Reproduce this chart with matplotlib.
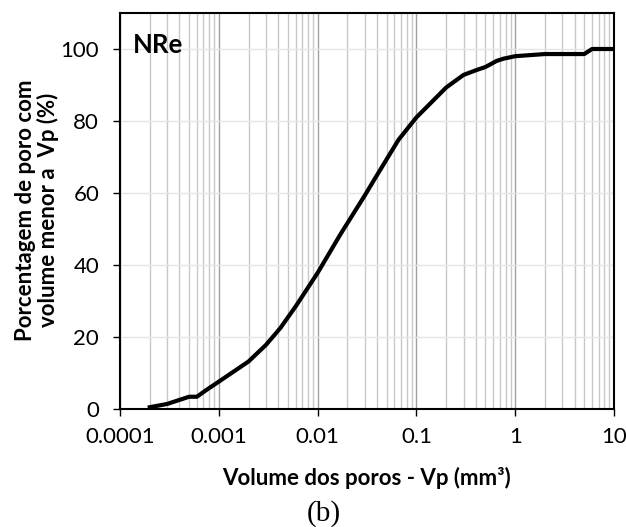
import numpy as np
import matplotlib.pyplot as plt
from matplotlib.ticker import LogLocator, FixedFormatter, FixedLocator

plt.rcParams['font.family'] = ['Lato', 'DejaVu Sans']

# pore volume (mm3) and cumulative percentage smaller than Vp
vp = [0.0002, 0.0003, 0.0005, 0.0006, 0.00075, 0.001, 0.002, 0.003, 0.0042,
      0.006, 0.01, 0.017, 0.03, 0.04, 0.066, 0.1, 0.2, 0.3, 0.41, 0.5,
      0.65, 0.76, 1.0, 2.0, 5.0, 6.0, 10.0]
pct = [0.5, 1.4, 3.4, 3.4, 5.3, 7.6, 13.2, 17.8, 22.5, 28.5, 37.8, 48.5,
       59.3, 65.0, 74.8, 81.0, 89.3, 92.8, 94.2, 95.0, 96.7, 97.3, 98.0,
       98.6, 98.6, 100.0, 100.0]

xticks = [0.0001, 0.001, 0.01, 0.1, 1, 10]
xlabels = ["0.0001", "0.001", "0.01", "0.1", "1", "10"]
yticks = [0, 20, 40, 60, 80, 100]

fig = plt.figure(figsize=(6.26, 5.27), dpi=100)
ax = fig.add_axes([120 / 626, 1 - 409 / 527, 494 / 626, 396 / 527])

ax.plot(vp, pct, color="black", linewidth=3, solid_joinstyle="round")
ax.set_xscale("log")
ax.set_xlim(0.0001, 10)
ax.set_ylim(0, 110)

ax.xaxis.set_major_locator(FixedLocator(xticks))
ax.xaxis.set_major_formatter(FixedFormatter(xlabels))
ax.xaxis.set_minor_locator(LogLocator(base=10, subs=np.arange(2, 10)))
ax.xaxis.set_minor_formatter(FixedFormatter([]))
ax.set_yticks(yticks)

ax.grid(True, which="major", axis="x", color="#a0a0a0", linewidth=1)
ax.grid(True, which="minor", axis="x", color="#c8c8c8", linewidth=1)
ax.grid(True, which="major", axis="y", color="#e4e4ea", linewidth=1)
ax.set_axisbelow(True)

for s in ax.spines.values():
    s.set_linewidth(1.5)
ax.tick_params(axis="both", which="major", direction="out", length=5, width=1,
               labelsize=16)
ax.tick_params(axis="y", pad=10)
ax.tick_params(axis="x", pad=8)
ax.tick_params(axis="x", which="minor", length=0)

ax.text(13 / 494, 1 - 20 / 396, "NRe", transform=ax.transAxes, fontsize=18.5,
        fontweight="bold", va="top", ha="left")

fig.text(367 / 626, 1 - 478 / 527, "Volume dos poros - Vp (mm³)",
         fontsize=16, fontweight="bold", ha="center", va="center")
fig.text(37 / 626, 1 - 210 / 527,
         "Porcentagem de poro com\nvolume menor a  Vp (%)",
         fontsize=16, fontweight="bold", rotation=90, ha="center",
         va="center", multialignment="center", linespacing=1.05)
fig.text(324 / 626, 1 - 514 / 527, "(b)", fontsize=21,
         family="Liberation Serif", ha="center", va="center")

fig.savefig("out.png", dpi=100)
